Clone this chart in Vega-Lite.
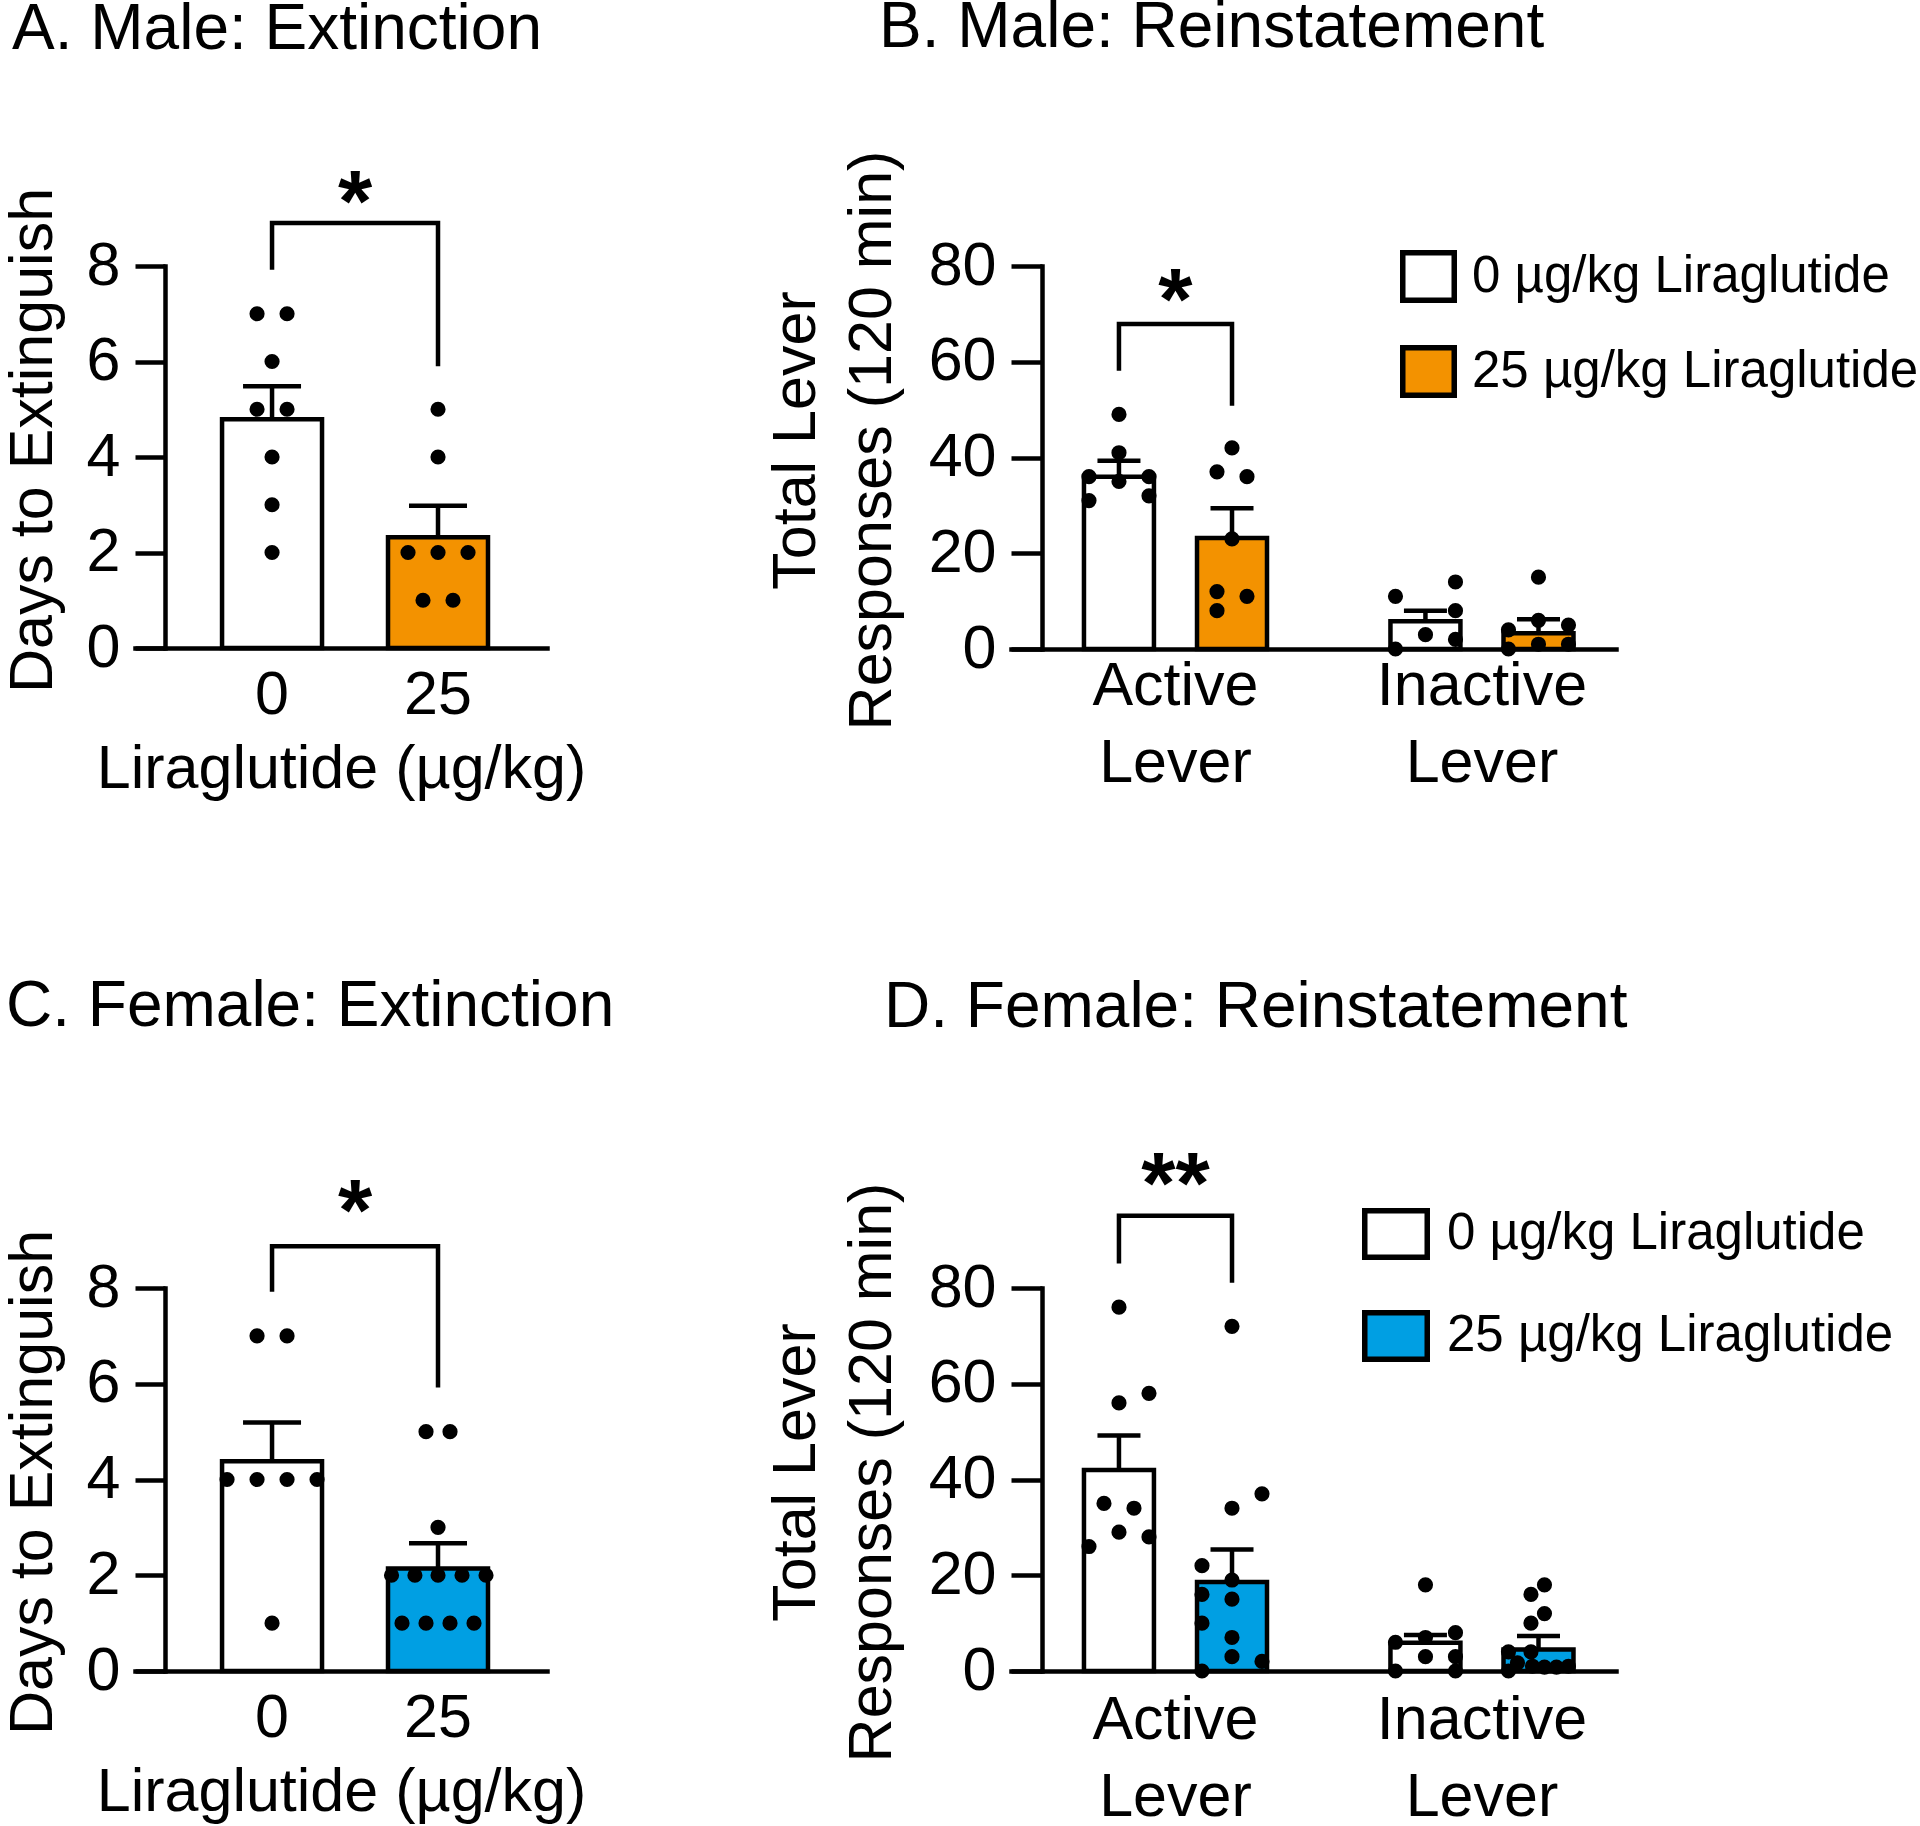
{
  "$schema": "https://vega.github.io/schema/vega-lite/v6.json",
  "background": "white",
  "padding": {"top": -4, "left": 2, "right": 0, "bottom": 0},
  "config": {
    "font": "Liberation Sans",
    "view": {"stroke": null},
    "axis": {"domainColor": "black", "domainWidth": 4.5, "tickColor": "black", "tickWidth": 4.5, "labelColor": "black", "titleColor": "black", "labelFont": "Liberation Sans", "titleFont": "Liberation Sans", "labelFontSize": 61, "titleFontSize": 61, "titleFontWeight": "normal", "grid": false, "domainCap": "square", "labelLimit": 500},
    "legend": {"labelFont": "Liberation Sans", "labelColor": "black", "labelLimit": 600},
    "title": {"font": "Liberation Sans", "fontSize": 64, "fontWeight": "normal", "color": "black", "anchor": "start", "frame": "group"}
  },
  "datasets": {
    "bars": [
      {"panel": "A", "dose": "0", "mean": 4.79, "upper": 5.48},
      {"panel": "A", "dose": "25", "mean": 2.32, "upper": 2.98},
      {"panel": "C", "dose": "0", "mean": 4.38, "upper": 5.19},
      {"panel": "C", "dose": "25", "mean": 2.14, "upper": 2.67},
      {"panel": "B", "lever": "Active Lever", "dose": "0", "mean": 36.0, "upper": 39.3},
      {"panel": "B", "lever": "Active Lever", "dose": "25", "mean": 23.2, "upper": 29.4},
      {"panel": "B", "lever": "Inactive Lever", "dose": "0", "mean": 5.8, "upper": 8.0},
      {"panel": "B", "lever": "Inactive Lever", "dose": "25", "mean": 3.3, "upper": 6.2},
      {"panel": "D", "lever": "Active Lever", "dose": "0", "mean": 42.0, "upper": 49.2},
      {"panel": "D", "lever": "Active Lever", "dose": "25", "mean": 18.6, "upper": 25.4},
      {"panel": "D", "lever": "Inactive Lever", "dose": "0", "mean": 5.9, "upper": 7.5},
      {"panel": "D", "lever": "Inactive Lever", "dose": "25", "mean": 4.5, "upper": 7.3}
    ],
    "dots": [
      {"panel": "A", "dose": "0", "value": 7, "jitter": -0.5},
      {"panel": "A", "dose": "0", "value": 7, "jitter": 0.5},
      {"panel": "A", "dose": "0", "value": 6, "jitter": 0},
      {"panel": "A", "dose": "0", "value": 5, "jitter": -0.5},
      {"panel": "A", "dose": "0", "value": 5, "jitter": 0.5},
      {"panel": "A", "dose": "0", "value": 4, "jitter": 0},
      {"panel": "A", "dose": "0", "value": 3, "jitter": 0},
      {"panel": "A", "dose": "0", "value": 2, "jitter": 0},
      {"panel": "A", "dose": "25", "value": 5, "jitter": 0},
      {"panel": "A", "dose": "25", "value": 4, "jitter": 0},
      {"panel": "A", "dose": "25", "value": 2, "jitter": -1},
      {"panel": "A", "dose": "25", "value": 2, "jitter": 0},
      {"panel": "A", "dose": "25", "value": 2, "jitter": 1},
      {"panel": "A", "dose": "25", "value": 1, "jitter": -0.5},
      {"panel": "A", "dose": "25", "value": 1, "jitter": 0.5},
      {"panel": "C", "dose": "0", "value": 7, "jitter": -0.5},
      {"panel": "C", "dose": "0", "value": 7, "jitter": 0.5},
      {"panel": "C", "dose": "0", "value": 4, "jitter": -1.5},
      {"panel": "C", "dose": "0", "value": 4, "jitter": -0.5},
      {"panel": "C", "dose": "0", "value": 4, "jitter": 0.5},
      {"panel": "C", "dose": "0", "value": 4, "jitter": 1.5},
      {"panel": "C", "dose": "0", "value": 1, "jitter": 0},
      {"panel": "C", "dose": "25", "value": 5, "jitter": -0.4},
      {"panel": "C", "dose": "25", "value": 5, "jitter": 0.4},
      {"panel": "C", "dose": "25", "value": 3, "jitter": 0},
      {"panel": "C", "dose": "25", "value": 2, "jitter": -1.55},
      {"panel": "C", "dose": "25", "value": 2, "jitter": -0.77},
      {"panel": "C", "dose": "25", "value": 2, "jitter": 0},
      {"panel": "C", "dose": "25", "value": 2, "jitter": 0.8},
      {"panel": "C", "dose": "25", "value": 2, "jitter": 1.6},
      {"panel": "C", "dose": "25", "value": 1, "jitter": -1.2},
      {"panel": "C", "dose": "25", "value": 1, "jitter": -0.4},
      {"panel": "C", "dose": "25", "value": 1, "jitter": 0.4},
      {"panel": "C", "dose": "25", "value": 1, "jitter": 1.2},
      {"panel": "B", "lever": "Active Lever", "dose": "0", "value": 49, "jitter": 0},
      {"panel": "B", "lever": "Active Lever", "dose": "0", "value": 41, "jitter": 0},
      {"panel": "B", "lever": "Active Lever", "dose": "0", "value": 36, "jitter": -1},
      {"panel": "B", "lever": "Active Lever", "dose": "0", "value": 35, "jitter": 0},
      {"panel": "B", "lever": "Active Lever", "dose": "0", "value": 36, "jitter": 1},
      {"panel": "B", "lever": "Active Lever", "dose": "0", "value": 31, "jitter": -1},
      {"panel": "B", "lever": "Active Lever", "dose": "0", "value": 32, "jitter": 1},
      {"panel": "B", "lever": "Active Lever", "dose": "25", "value": 42, "jitter": 0},
      {"panel": "B", "lever": "Active Lever", "dose": "25", "value": 37, "jitter": -0.5},
      {"panel": "B", "lever": "Active Lever", "dose": "25", "value": 36, "jitter": 0.5},
      {"panel": "B", "lever": "Active Lever", "dose": "25", "value": 23, "jitter": 0},
      {"panel": "B", "lever": "Active Lever", "dose": "25", "value": 12, "jitter": -0.5},
      {"panel": "B", "lever": "Active Lever", "dose": "25", "value": 11, "jitter": 0.5},
      {"panel": "B", "lever": "Active Lever", "dose": "25", "value": 8, "jitter": -0.5},
      {"panel": "B", "lever": "Inactive Lever", "dose": "0", "value": 14, "jitter": 1},
      {"panel": "B", "lever": "Inactive Lever", "dose": "0", "value": 11, "jitter": -1},
      {"panel": "B", "lever": "Inactive Lever", "dose": "0", "value": 8, "jitter": 1},
      {"panel": "B", "lever": "Inactive Lever", "dose": "0", "value": 3, "jitter": 0},
      {"panel": "B", "lever": "Inactive Lever", "dose": "0", "value": 2, "jitter": 1},
      {"panel": "B", "lever": "Inactive Lever", "dose": "0", "value": 0, "jitter": -1},
      {"panel": "B", "lever": "Inactive Lever", "dose": "25", "value": 15, "jitter": 0},
      {"panel": "B", "lever": "Inactive Lever", "dose": "25", "value": 6, "jitter": 0},
      {"panel": "B", "lever": "Inactive Lever", "dose": "25", "value": 5, "jitter": 1},
      {"panel": "B", "lever": "Inactive Lever", "dose": "25", "value": 4, "jitter": -1},
      {"panel": "B", "lever": "Inactive Lever", "dose": "25", "value": 1, "jitter": 0},
      {"panel": "B", "lever": "Inactive Lever", "dose": "25", "value": 1, "jitter": 1},
      {"panel": "B", "lever": "Inactive Lever", "dose": "25", "value": 0, "jitter": -1},
      {"panel": "D", "lever": "Active Lever", "dose": "0", "value": 76, "jitter": 0},
      {"panel": "D", "lever": "Active Lever", "dose": "0", "value": 58, "jitter": 1},
      {"panel": "D", "lever": "Active Lever", "dose": "0", "value": 56, "jitter": 0},
      {"panel": "D", "lever": "Active Lever", "dose": "0", "value": 35, "jitter": -0.5},
      {"panel": "D", "lever": "Active Lever", "dose": "0", "value": 34, "jitter": 0.5},
      {"panel": "D", "lever": "Active Lever", "dose": "0", "value": 29, "jitter": 0},
      {"panel": "D", "lever": "Active Lever", "dose": "0", "value": 28, "jitter": 1},
      {"panel": "D", "lever": "Active Lever", "dose": "0", "value": 26, "jitter": -1},
      {"panel": "D", "lever": "Active Lever", "dose": "25", "value": 72, "jitter": 0},
      {"panel": "D", "lever": "Active Lever", "dose": "25", "value": 37, "jitter": 1},
      {"panel": "D", "lever": "Active Lever", "dose": "25", "value": 34, "jitter": 0},
      {"panel": "D", "lever": "Active Lever", "dose": "25", "value": 22, "jitter": -1},
      {"panel": "D", "lever": "Active Lever", "dose": "25", "value": 19, "jitter": 0},
      {"panel": "D", "lever": "Active Lever", "dose": "25", "value": 16, "jitter": -1},
      {"panel": "D", "lever": "Active Lever", "dose": "25", "value": 15, "jitter": 0},
      {"panel": "D", "lever": "Active Lever", "dose": "25", "value": 10, "jitter": -1},
      {"panel": "D", "lever": "Active Lever", "dose": "25", "value": 7, "jitter": 0},
      {"panel": "D", "lever": "Active Lever", "dose": "25", "value": 3, "jitter": 0},
      {"panel": "D", "lever": "Active Lever", "dose": "25", "value": 2, "jitter": 1},
      {"panel": "D", "lever": "Active Lever", "dose": "25", "value": 0, "jitter": -1},
      {"panel": "D", "lever": "Inactive Lever", "dose": "0", "value": 18, "jitter": 0},
      {"panel": "D", "lever": "Inactive Lever", "dose": "0", "value": 8, "jitter": 1},
      {"panel": "D", "lever": "Inactive Lever", "dose": "0", "value": 7, "jitter": 0},
      {"panel": "D", "lever": "Inactive Lever", "dose": "0", "value": 6, "jitter": -1},
      {"panel": "D", "lever": "Inactive Lever", "dose": "0", "value": 3, "jitter": 0},
      {"panel": "D", "lever": "Inactive Lever", "dose": "0", "value": 3, "jitter": 1},
      {"panel": "D", "lever": "Inactive Lever", "dose": "0", "value": 0, "jitter": -1},
      {"panel": "D", "lever": "Inactive Lever", "dose": "0", "value": 0, "jitter": 1},
      {"panel": "D", "lever": "Inactive Lever", "dose": "25", "value": 18, "jitter": 0.2},
      {"panel": "D", "lever": "Inactive Lever", "dose": "25", "value": 16, "jitter": -0.25},
      {"panel": "D", "lever": "Inactive Lever", "dose": "25", "value": 12, "jitter": 0.2},
      {"panel": "D", "lever": "Inactive Lever", "dose": "25", "value": 10, "jitter": -0.25},
      {"panel": "D", "lever": "Inactive Lever", "dose": "25", "value": 4, "jitter": -1},
      {"panel": "D", "lever": "Inactive Lever", "dose": "25", "value": 4, "jitter": -0.25},
      {"panel": "D", "lever": "Inactive Lever", "dose": "25", "value": 1.7, "jitter": -0.7},
      {"panel": "D", "lever": "Inactive Lever", "dose": "25", "value": 1, "jitter": -0.2},
      {"panel": "D", "lever": "Inactive Lever", "dose": "25", "value": 0.8, "jitter": 0.2},
      {"panel": "D", "lever": "Inactive Lever", "dose": "25", "value": 0.8, "jitter": 0.6},
      {"panel": "D", "lever": "Inactive Lever", "dose": "25", "value": 1, "jitter": 1},
      {"panel": "D", "lever": "Inactive Lever", "dose": "25", "value": 0, "jitter": -1}
    ],
    "brackets": [
      {"panel": "A", "seq": 1, "dose": "0", "value": 7.92},
      {"panel": "A", "seq": 2, "dose": "0", "value": 8.9},
      {"panel": "A", "seq": 3, "dose": "25", "value": 8.9},
      {"panel": "A", "seq": 4, "dose": "25", "value": 5.9},
      {"panel": "C", "seq": 1, "dose": "0", "value": 7.92},
      {"panel": "C", "seq": 2, "dose": "0", "value": 8.87},
      {"panel": "C", "seq": 3, "dose": "25", "value": 8.87},
      {"panel": "C", "seq": 4, "dose": "25", "value": 5.92},
      {"panel": "B", "seq": 1, "lever": "Active Lever", "dose": "0", "value": 58.1},
      {"panel": "B", "seq": 2, "lever": "Active Lever", "dose": "0", "value": 67.9},
      {"panel": "B", "seq": 3, "lever": "Active Lever", "dose": "25", "value": 67.9},
      {"panel": "B", "seq": 4, "lever": "Active Lever", "dose": "25", "value": 50.8},
      {"panel": "D", "seq": 1, "lever": "Active Lever", "dose": "0", "value": 85.1},
      {"panel": "D", "seq": 2, "lever": "Active Lever", "dose": "0", "value": 95.1},
      {"panel": "D", "seq": 3, "lever": "Active Lever", "dose": "25", "value": 95.1},
      {"panel": "D", "seq": 4, "lever": "Active Lever", "dose": "25", "value": 81.1}
    ],
    "stars": [
      {"panel": "A", "comparison": "0 vs 25", "label": "*", "value": 9.27},
      {"panel": "C", "comparison": "0 vs 25", "label": "*", "value": 9.54},
      {"panel": "B", "lever": "Active Lever", "label": "*", "value": 72.2},
      {"panel": "D", "lever": "Active Lever", "label": "**", "value": 101.2}
    ]
  },
  "columns": 2,
  "spacing": {"row": 639, "column": 464},
  "bounds": "flush",
  "resolve": {"scale": {"x": "independent", "y": "independent", "fill": "independent", "xOffset": "independent"}, "legend": {"fill": "independent"}},
  "concat": [
    {
      "width": 412, "height": 382,
      "title": {"text": "A. Male: Extinction", "dx": -123, "offset": 99},
      "resolve": {"scale": {"x": "independent"}},
      "layer": [
        {
          "resolve": {"scale": {"xOffset": "independent"}},
          "layer": [
            {
              "data": {"name": "bars"}, "transform": [{"filter": "datum.panel === 'A'"}],
              "mark": {"type": "bar", "stroke": "black", "strokeWidth": 4.5},
              "encoding": {
                "x": {"field": "dose", "type": "nominal", "sort": ["0", "25"], "scale": {"type": "band", "paddingInner": 0.3976, "paddingOuter": 0.44, "align": 0.596}, "axis": {"title": "Liraglutide (µg/kg)", "labelAngle": 0, "ticks": false, "tickSize": 0, "labelPadding": 17, "titlePadding": 14}},
                "y": {"field": "mean", "type": "quantitative", "scale": {"domain": [0, 8], "nice": false}, "axis": {"title": "Days to Extinguish", "values": [0, 2, 4, 6, 8], "offset": -30, "tickSize": 30, "labelPadding": 15, "titlePadding": 22, "titleY": 174}},
                "fill": {"field": "dose", "type": "nominal", "scale": {"domain": ["0", "25"], "range": ["#FFFFFF", "#F39200"]}, "legend": null}
              }
            },
            {
              "data": {"name": "bars"}, "transform": [{"filter": "datum.panel === 'A'"}],
              "mark": {"type": "rule", "strokeWidth": 4.5, "color": "black"},
              "encoding": {"x": {"field": "dose", "type": "nominal"}, "y": {"field": "mean", "type": "quantitative"}, "y2": {"field": "upper"}}
            },
            {
              "data": {"name": "bars"}, "transform": [{"filter": "datum.panel === 'A'"}],
              "mark": {"type": "tick", "orient": "horizontal", "size": 58, "thickness": 4.5, "color": "black", "opacity": 1},
              "encoding": {"x": {"field": "dose", "type": "nominal"}, "y": {"field": "upper", "type": "quantitative"}}
            },
            {
              "data": {"name": "dots"}, "transform": [{"filter": "datum.panel === 'A'"}],
              "mark": {"type": "circle", "size": 230, "color": "black", "opacity": 1},
              "encoding": {"x": {"field": "dose", "type": "nominal"}, "xOffset": {"field": "jitter", "type": "quantitative", "scale": {"domain": [-1, 1], "range": [20, 80]}}, "y": {"field": "value", "type": "quantitative"}}
            },
            {
              "data": {"name": "brackets"}, "transform": [{"filter": "datum.panel === 'A'"}],
              "mark": {"type": "line", "strokeWidth": 4.5, "color": "black", "strokeJoin": "miter", "strokeCap": "butt"},
              "encoding": {"x": {"field": "dose", "type": "nominal"}, "y": {"field": "value", "type": "quantitative"}, "order": {"field": "seq"}}
            }
          ]
        },
        {
          "data": {"name": "stars"}, "transform": [{"filter": "datum.panel === 'A'"}],
          "mark": {"type": "text", "fontSize": 88, "fontWeight": "bold", "baseline": "middle", "align": "center", "color": "black"},
          "encoding": {"x": {"field": "comparison", "type": "nominal", "scale": {"type": "point", "padding": 0, "align": 0.534}, "axis": null}, "y": {"field": "value", "type": "quantitative"}, "text": {"field": "label"}}
        }
      ]
    },
    {
      "width": 605, "height": 383,
      "title": {"text": "B. Male: Reinstatement", "dx": -132, "offset": 90},
      "resolve": {"scale": {"xOffset": "independent"}},
      "layer": [
        {
          "data": {"name": "bars"}, "transform": [{"filter": "datum.panel === 'B'"}],
          "mark": {"type": "bar", "stroke": "black", "strokeWidth": 4.5},
          "encoding": {
            "x": {"field": "lever", "type": "nominal", "sort": ["Active Lever", "Inactive Lever"], "scale": {"type": "band", "paddingInner": 0.2626, "paddingOuter": 0.1183, "align": 0.71}, "axis": {"title": null, "labelAngle": 0, "labelExpr": "split(datum.label, ' ')", "labelLineHeight": 77, "ticks": false, "tickSize": 0, "labelPadding": 7}},
            "xOffset": {"field": "dose", "type": "nominal", "sort": ["0", "25"], "scale": {"type": "band", "paddingInner": 0.381, "paddingOuter": 0.19}},
            "y": {"field": "mean", "type": "quantitative", "scale": {"domain": [0, 80], "nice": false}, "axis": {"title": ["Total Lever", "Responses (120 min)"], "titleLineHeight": 76, "values": [0, 20, 40, 60, 80], "offset": -31, "tickSize": 31, "labelPadding": 15, "titlePadding": 25, "titleY": 174}},
            "fill": {"field": "dose", "type": "nominal", "scale": {"domain": ["0", "25"], "range": ["#FFFFFF", "#F39200"]}, "legend": {"orient": "none", "legendX": 391, "legendY": -16, "title": null, "labelExpr": "datum.label + ' µg/kg Liraglutide'", "symbolType": "M-1.084,-1L1.084,-1L1.084,1L-1.084,1Z", "symbolSize": 2256, "symbolStrokeColor": "black", "symbolStrokeWidth": 5.5, "symbolOpacity": 1, "labelFontSize": 51, "labelOffset": 17, "rowPadding": 24}}
          }
        },
        {
          "data": {"name": "bars"}, "transform": [{"filter": "datum.panel === 'B'"}],
          "mark": {"type": "rule", "strokeWidth": 4.5, "color": "black"},
          "encoding": {"x": {"field": "lever", "type": "nominal"}, "xOffset": {"field": "dose", "type": "nominal", "sort": ["0", "25"], "scale": {"type": "band", "paddingInner": 0.381, "paddingOuter": 0.19}}, "y": {"field": "mean", "type": "quantitative"}, "y2": {"field": "upper"}}
        },
        {
          "data": {"name": "bars"}, "transform": [{"filter": "datum.panel === 'B'"}],
          "mark": {"type": "tick", "orient": "horizontal", "size": 43, "thickness": 4.5, "color": "black", "opacity": 1},
          "encoding": {"x": {"field": "lever", "type": "nominal"}, "xOffset": {"field": "dose", "type": "nominal", "sort": ["0", "25"], "scale": {"type": "band", "paddingInner": 0.381, "paddingOuter": 0.19}}, "y": {"field": "upper", "type": "quantitative"}}
        },
        {
          "data": {"name": "dots"}, "transform": [{"filter": "datum.panel === 'B' && datum.dose === '0'"}],
          "mark": {"type": "circle", "size": 230, "color": "black", "opacity": 1},
          "encoding": {"x": {"field": "lever", "type": "nominal"}, "xOffset": {"field": "jitter", "type": "quantitative", "scale": {"domain": [-1, 1], "range": [26.5, 86.5]}}, "y": {"field": "value", "type": "quantitative"}}
        },
        {
          "data": {"name": "dots"}, "transform": [{"filter": "datum.panel === 'B' && datum.dose === '25'"}],
          "mark": {"type": "circle", "size": 230, "color": "black", "opacity": 1},
          "encoding": {"x": {"field": "lever", "type": "nominal"}, "xOffset": {"field": "jitter", "type": "quantitative", "scale": {"domain": [-1, 1], "range": [139.5, 199.5]}}, "y": {"field": "value", "type": "quantitative"}}
        },
        {
          "data": {"name": "brackets"}, "transform": [{"filter": "datum.panel === 'B'"}],
          "mark": {"type": "line", "strokeWidth": 4.5, "color": "black", "strokeJoin": "miter", "strokeCap": "butt"},
          "encoding": {"x": {"field": "lever", "type": "nominal"}, "xOffset": {"field": "dose", "type": "nominal", "sort": ["0", "25"], "scale": {"type": "band", "paddingInner": 0.381, "paddingOuter": 0.19}}, "y": {"field": "value", "type": "quantitative"}, "order": {"field": "seq"}}
        },
        {
          "data": {"name": "stars"}, "transform": [{"filter": "datum.panel === 'B'"}],
          "mark": {"type": "text", "fontSize": 88, "fontWeight": "bold", "baseline": "middle", "align": "center", "color": "black"},
          "encoding": {"x": {"field": "lever", "type": "nominal"}, "y": {"field": "value", "type": "quantitative"}, "text": {"field": "label"}}
        }
      ]
    },
    {
      "width": 412, "height": 383,
      "title": {"text": "C. Female: Extinction", "dx": -129, "offset": 131},
      "resolve": {"scale": {"x": "independent"}},
      "layer": [
        {
          "resolve": {"scale": {"xOffset": "independent"}},
          "layer": [
            {
              "data": {"name": "bars"}, "transform": [{"filter": "datum.panel === 'C'"}],
              "mark": {"type": "bar", "stroke": "black", "strokeWidth": 4.5},
              "encoding": {
                "x": {"field": "dose", "type": "nominal", "sort": ["0", "25"], "scale": {"type": "band", "paddingInner": 0.3976, "paddingOuter": 0.44, "align": 0.596}, "axis": {"title": "Liraglutide (µg/kg)", "labelAngle": 0, "ticks": false, "tickSize": 0, "labelPadding": 17, "titlePadding": 14}},
                "y": {"field": "mean", "type": "quantitative", "scale": {"domain": [0, 8], "nice": false}, "axis": {"title": "Days to Extinguish", "values": [0, 2, 4, 6, 8], "offset": -30, "tickSize": 30, "labelPadding": 15, "titlePadding": 22, "titleY": 194}},
                "fill": {"field": "dose", "type": "nominal", "scale": {"domain": ["0", "25"], "range": ["#FFFFFF", "#009FE3"]}, "legend": null}
              }
            },
            {
              "data": {"name": "bars"}, "transform": [{"filter": "datum.panel === 'C'"}],
              "mark": {"type": "rule", "strokeWidth": 4.5, "color": "black"},
              "encoding": {"x": {"field": "dose", "type": "nominal"}, "y": {"field": "mean", "type": "quantitative"}, "y2": {"field": "upper"}}
            },
            {
              "data": {"name": "bars"}, "transform": [{"filter": "datum.panel === 'C'"}],
              "mark": {"type": "tick", "orient": "horizontal", "size": 58, "thickness": 4.5, "color": "black", "opacity": 1},
              "encoding": {"x": {"field": "dose", "type": "nominal"}, "y": {"field": "upper", "type": "quantitative"}}
            },
            {
              "data": {"name": "dots"}, "transform": [{"filter": "datum.panel === 'C'"}],
              "mark": {"type": "circle", "size": 230, "color": "black", "opacity": 1},
              "encoding": {"x": {"field": "dose", "type": "nominal"}, "xOffset": {"field": "jitter", "type": "quantitative", "scale": {"domain": [-1, 1], "range": [20, 80]}}, "y": {"field": "value", "type": "quantitative"}}
            },
            {
              "data": {"name": "brackets"}, "transform": [{"filter": "datum.panel === 'C'"}],
              "mark": {"type": "line", "strokeWidth": 4.5, "color": "black", "strokeJoin": "miter", "strokeCap": "butt"},
              "encoding": {"x": {"field": "dose", "type": "nominal"}, "y": {"field": "value", "type": "quantitative"}, "order": {"field": "seq"}}
            }
          ]
        },
        {
          "data": {"name": "stars"}, "transform": [{"filter": "datum.panel === 'C'"}],
          "mark": {"type": "text", "fontSize": 88, "fontWeight": "bold", "baseline": "middle", "align": "center", "color": "black"},
          "encoding": {"x": {"field": "comparison", "type": "nominal", "scale": {"type": "point", "padding": 0, "align": 0.534}, "axis": null}, "y": {"field": "value", "type": "quantitative"}, "text": {"field": "label"}}
        }
      ]
    },
    {
      "width": 605, "height": 383,
      "title": {"text": "D. Female: Reinstatement", "dx": -127, "offset": 103},
      "resolve": {"scale": {"xOffset": "independent"}},
      "layer": [
        {
          "data": {"name": "bars"}, "transform": [{"filter": "datum.panel === 'D'"}],
          "mark": {"type": "bar", "stroke": "black", "strokeWidth": 4.5},
          "encoding": {
            "x": {"field": "lever", "type": "nominal", "sort": ["Active Lever", "Inactive Lever"], "scale": {"type": "band", "paddingInner": 0.2626, "paddingOuter": 0.1183, "align": 0.71}, "axis": {"title": null, "labelAngle": 0, "labelExpr": "split(datum.label, ' ')", "labelLineHeight": 77, "ticks": false, "tickSize": 0, "labelPadding": 19}},
            "xOffset": {"field": "dose", "type": "nominal", "sort": ["0", "25"], "scale": {"type": "band", "paddingInner": 0.381, "paddingOuter": 0.19}},
            "y": {"field": "mean", "type": "quantitative", "scale": {"domain": [0, 80], "nice": false}, "axis": {"title": ["Total Lever", "Responses (120 min)"], "titleLineHeight": 76, "values": [0, 20, 40, 60, 80], "offset": -31, "tickSize": 31, "labelPadding": 15, "titlePadding": 25, "titleY": 184}},
            "fill": {"field": "dose", "type": "nominal", "scale": {"domain": ["0", "25"], "range": ["#FFFFFF", "#009FE3"]}, "legend": {"orient": "none", "legendX": 359, "legendY": -80, "title": null, "labelExpr": "datum.label + ' µg/kg Liraglutide'", "symbolType": "M-1.344,-1L1.344,-1L1.344,1L-1.344,1Z", "symbolSize": 2162, "symbolStrokeColor": "black", "symbolStrokeWidth": 5.5, "symbolOpacity": 1, "labelFontSize": 51, "labelOffset": 25, "rowPadding": 32}}
          }
        },
        {
          "data": {"name": "bars"}, "transform": [{"filter": "datum.panel === 'D'"}],
          "mark": {"type": "rule", "strokeWidth": 4.5, "color": "black"},
          "encoding": {"x": {"field": "lever", "type": "nominal"}, "xOffset": {"field": "dose", "type": "nominal", "sort": ["0", "25"], "scale": {"type": "band", "paddingInner": 0.381, "paddingOuter": 0.19}}, "y": {"field": "mean", "type": "quantitative"}, "y2": {"field": "upper"}}
        },
        {
          "data": {"name": "bars"}, "transform": [{"filter": "datum.panel === 'D'"}],
          "mark": {"type": "tick", "orient": "horizontal", "size": 43, "thickness": 4.5, "color": "black", "opacity": 1},
          "encoding": {"x": {"field": "lever", "type": "nominal"}, "xOffset": {"field": "dose", "type": "nominal", "sort": ["0", "25"], "scale": {"type": "band", "paddingInner": 0.381, "paddingOuter": 0.19}}, "y": {"field": "upper", "type": "quantitative"}}
        },
        {
          "data": {"name": "dots"}, "transform": [{"filter": "datum.panel === 'D' && datum.dose === '0'"}],
          "mark": {"type": "circle", "size": 230, "color": "black", "opacity": 1},
          "encoding": {"x": {"field": "lever", "type": "nominal"}, "xOffset": {"field": "jitter", "type": "quantitative", "scale": {"domain": [-1, 1], "range": [26.5, 86.5]}}, "y": {"field": "value", "type": "quantitative"}}
        },
        {
          "data": {"name": "dots"}, "transform": [{"filter": "datum.panel === 'D' && datum.dose === '25'"}],
          "mark": {"type": "circle", "size": 230, "color": "black", "opacity": 1},
          "encoding": {"x": {"field": "lever", "type": "nominal"}, "xOffset": {"field": "jitter", "type": "quantitative", "scale": {"domain": [-1, 1], "range": [139.5, 199.5]}}, "y": {"field": "value", "type": "quantitative"}}
        },
        {
          "data": {"name": "brackets"}, "transform": [{"filter": "datum.panel === 'D'"}],
          "mark": {"type": "line", "strokeWidth": 4.5, "color": "black", "strokeJoin": "miter", "strokeCap": "butt"},
          "encoding": {"x": {"field": "lever", "type": "nominal"}, "xOffset": {"field": "dose", "type": "nominal", "sort": ["0", "25"], "scale": {"type": "band", "paddingInner": 0.381, "paddingOuter": 0.19}}, "y": {"field": "value", "type": "quantitative"}, "order": {"field": "seq"}}
        },
        {
          "data": {"name": "stars"}, "transform": [{"filter": "datum.panel === 'D'"}],
          "mark": {"type": "text", "fontSize": 88, "fontWeight": "bold", "baseline": "middle", "align": "center", "color": "black"},
          "encoding": {"x": {"field": "lever", "type": "nominal"}, "y": {"field": "value", "type": "quantitative"}, "text": {"field": "label"}}
        }
      ]
    }
  ]
}
